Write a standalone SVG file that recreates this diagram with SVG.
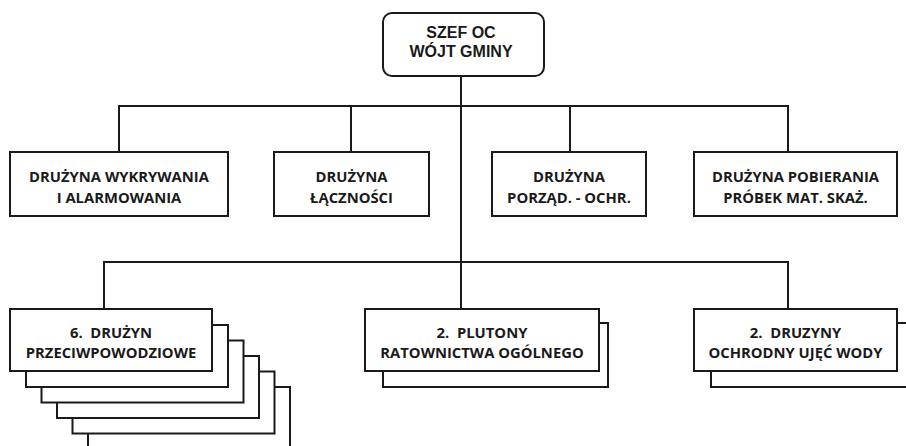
<svg xmlns="http://www.w3.org/2000/svg" width="906" height="446" viewBox="0 0 906 446">
<style>
  .box{fill:#fff;stroke:#1a1a1a;stroke-width:2}
  .ln{fill:none;stroke:#1a1a1a;stroke-width:2}
  .t{font-family:"Open Sans","Noto Sans","DejaVu Sans",sans-serif;font-weight:bold;font-size:14.8px;fill:#1a1a1a;text-anchor:middle;white-space:pre}
  .h{font-family:"Liberation Sans",Arial,sans-serif;font-weight:bold;font-size:16px;fill:#1a1a1a;text-anchor:middle}
</style>
<rect width="906" height="446" fill="#fff"/>
<g id="connectors">
  <path class="ln" d="M461 76V309"/>
  <path class="ln" d="M119 152V106H788V152"/>
  <path class="ln" d="M351 106V152M570 106V152"/>
  <path class="ln" d="M104 309V262H788V309"/>
</g>
<g id="szef">
  <rect class="box" x="383" y="13" width="161" height="63" rx="9"/>
  <text class="h" x="461" y="38">SZEF OC</text>
  <text class="h" x="461" y="57">WÓJT GMINY</text>
</g>
<g id="wykrywania">
  <rect class="box" x="10" y="152" width="218" height="64"/>
  <text class="t" x="119" y="182">DRUŻYNA WYKRYWANIA</text>
  <text class="t" x="119" y="203">I ALARMOWANIA</text>
</g>
<g id="lacznosci">
  <rect class="box" x="274" y="152" width="155" height="64"/>
  <text class="t" x="351.5" y="182">DRUŻYNA</text>
  <text class="t" x="351.5" y="203">ŁĄCZNOŚCI</text>
</g>
<g id="porzad">
  <rect class="box" x="492" y="152" width="154" height="64"/>
  <text class="t" x="569" y="182">DRUŻYNA</text>
  <text class="t" x="569" y="203">PORZĄD. - OCHR.</text>
</g>
<g id="pobierania">
  <rect class="box" x="694" y="152" width="203" height="64"/>
  <text class="t" x="795.5" y="182">DRUŻYNA POBIERANIA</text>
  <text class="t" x="795.5" y="203">PRÓBEK MAT. SKAŻ.</text>
</g>
<g id="przeciwpowodziowe">
  <rect class="box" x="88" y="387" width="202" height="62"/>
  <rect class="box" x="72.5" y="371.5" width="202" height="62"/>
  <rect class="box" x="57" y="356" width="202" height="62"/>
  <rect class="box" x="41.5" y="340.5" width="202" height="62"/>
  <rect class="box" x="26" y="325" width="202" height="62"/>
  <rect class="box" x="10" y="309" width="202" height="62"/>
  <text class="t" x="111" y="338">6.  DRUŻYN</text>
  <text class="t" x="111" y="358">PRZECIWPOWODZIOWE</text>
</g>
<g id="plutony">
  <rect class="box" x="383" y="323" width="225" height="64"/>
  <rect class="box" x="365" y="309" width="234" height="62"/>
  <text class="t" x="482" y="338">2.  PLUTONY</text>
  <text class="t" x="482" y="358">RATOWNICTWA OGÓLNEGO</text>
</g>
<g id="ujec-wody">
  <rect class="box" x="711" y="323" width="210" height="64"/>
  <rect class="box" x="694" y="309" width="203" height="62"/>
  <text class="t" x="795.5" y="338">2.  DRUZYNY</text>
  <text class="t" x="795.5" y="358">OCHRODNY UJĘĆ WODY</text>
</g>
</svg>
